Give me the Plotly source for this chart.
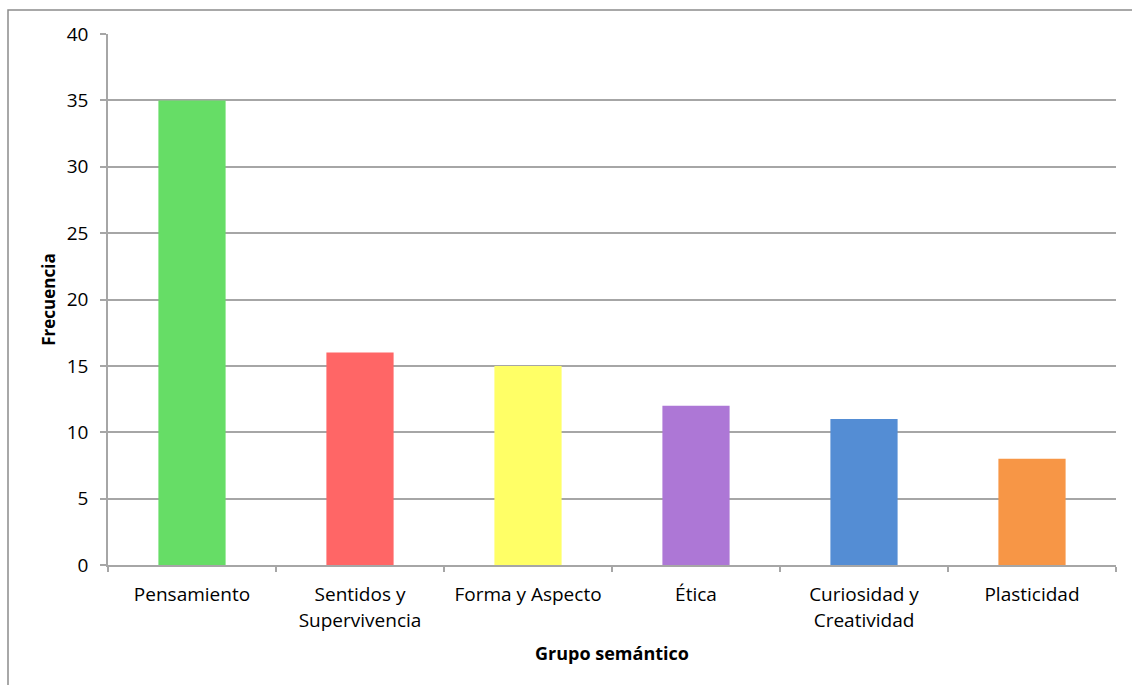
import plotly.graph_objects as go

categories = ["Pensamiento", "Sentidos y Supervivencia", "Forma y Aspecto", "Ética",
              "Curiosidad y Creatividad", "Plasticidad"]
label_line1 = ["Pensamiento", "Sentidos y", "Forma y Aspecto", "Ética", "Curiosidad y", "Plasticidad"]
label_line2 = ["", "Supervivencia", "", "", "Creatividad", ""]
values = [35, 16, 15, 12, 11, 8]
colors = ["#66DD66", "#FF6666", "#FFFF66", "#AD77D6", "#548DD4", "#F79646"]
y_ticks = [0, 5, 10, 15, 20, 25, 30, 35, 40]

W, H = 1132, 685
L, R, T, B = 108, 16, 34, 120
pw, ph = W - L - R, H - T - B

FONT = "Open Sans"
GRID = "#A6A6A6"
FS = 19

fig = go.Figure()
fig.add_trace(go.Bar(x=categories, y=values, marker=dict(color=colors, line=dict(width=0)),
                     width=0.4, hoverinfo="x+y"))
# helper trace for second line of category labels
fig.add_trace(go.Scatter(x=categories, y=values, xaxis="x2", mode="markers",
                         marker=dict(opacity=0), hoverinfo="skip", showlegend=False))

fig.update_layout(
    width=W, height=H,
    margin=dict(l=L, r=R, t=T, b=B),
    paper_bgcolor="white", plot_bgcolor="white",
    showlegend=False,
    font=dict(family=FONT, size=FS, color="#000000"),
    xaxis=dict(
        type="category", categoryorder="array", categoryarray=categories,
        range=[-0.5, len(categories) - 0.5],
        tickmode="array", tickvals=categories, ticktext=label_line1,
        tickson="boundaries", ticks="outside", ticklen=5, tickcolor=GRID, tickwidth=1.5,
        showline=True, linecolor=GRID, linewidth=1.5, showgrid=False,
        ticklabelstandoff=11,
        tickfont=dict(family=FONT, size=FS),
        title=dict(text="<b>Grupo semántico</b>", font=dict(family=FONT, size=18), standoff=42),
    ),
    xaxis2=dict(
        type="category", categoryorder="array", categoryarray=categories,
        range=[-0.5, len(categories) - 0.5], overlaying="x", side="bottom",
        tickmode="array", tickvals=categories, ticktext=label_line2,
        ticks="", showline=False, showgrid=False, zeroline=False,
        ticklabelstandoff=42,
        tickfont=dict(family=FONT, size=FS),
    ),
    yaxis=dict(
        range=[0, 40], tickmode="array", tickvals=y_ticks,
        ticks="outside", ticklen=6, tickcolor=GRID, tickwidth=1.5,
        showline=True, linecolor=GRID, linewidth=1.5,
        showgrid=True, gridcolor=GRID, gridwidth=1.5, zeroline=False,
        ticklabelstandoff=8,
        tickfont=dict(family=FONT, size=FS),
        title=dict(text="<b>Frecuencia</b>", font=dict(family=FONT, size=17), standoff=7),
    ),
    shapes=[dict(type="rect", xref="paper", yref="paper",
                 x0=(8 - L) / pw, x1=1.2, y0=-0.5, y1=1 + (T - 10) / ph,
                 line=dict(color="#8C8C8C", width=1.5), fillcolor="rgba(0,0,0,0)", layer="below")],
)

fig.write_html("out.html")
